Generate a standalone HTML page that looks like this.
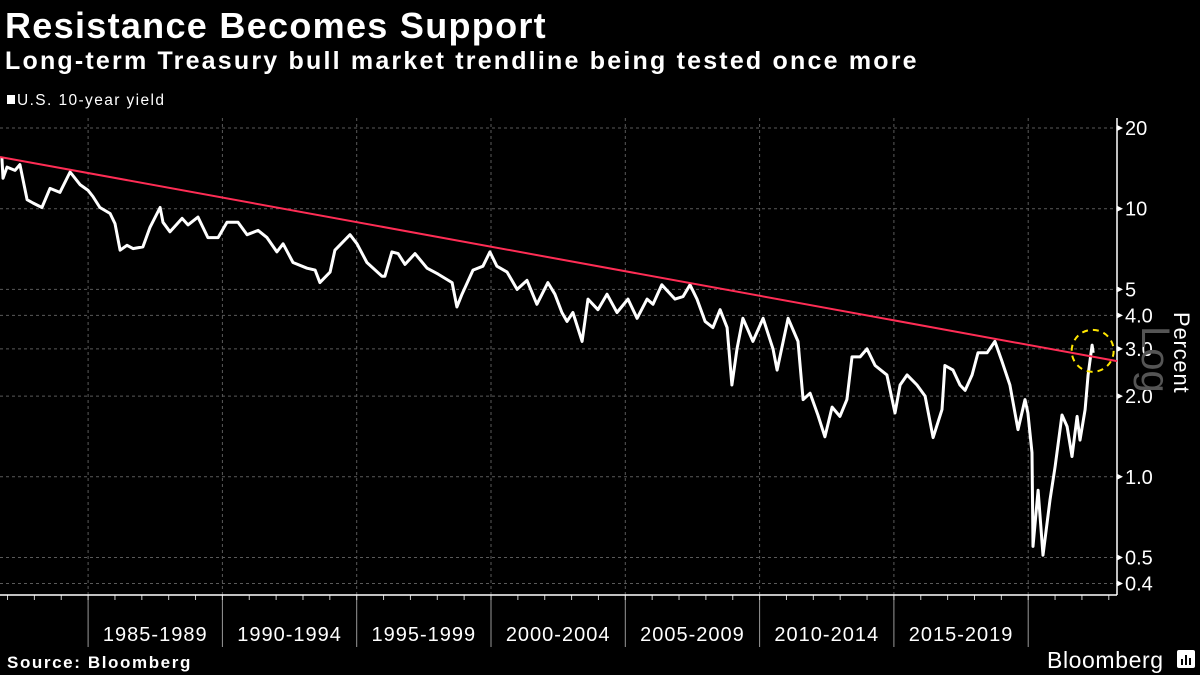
<!DOCTYPE html>
<html><head><meta charset="utf-8">
<style>
html,body{margin:0;padding:0;background:#000;}
body{width:1200px;height:675px;overflow:hidden;font-family:"Liberation Sans",sans-serif;color:#fff;}
</style></head>
<body>
<svg id="chart" width="1200" height="675" xmlns="http://www.w3.org/2000/svg" style="position:absolute;left:0;top:0">
<text x="5" y="38" font-family="Liberation Sans, sans-serif" font-weight="bold" font-size="36" letter-spacing="1.3" fill="#fff">Resistance Becomes Support</text>
<text x="5" y="69" font-family="Liberation Sans, sans-serif" font-weight="bold" font-size="25" letter-spacing="2.2" fill="#fff">Long-term Treasury bull market trendline being tested once more</text>
<rect x="7" y="95" width="8" height="9" fill="#fff"/>
<text x="17" y="105" font-size="15.5" letter-spacing="1.4" fill="#fff" font-family="Liberation Sans, sans-serif">U.S. 10-year yield</text>
<g id="grid"></g>
<g id="axes"></g>
<g id="series"></g>
<text transform="translate(1142,326) rotate(90)" font-size="40" fill="#555" font-family="Liberation Sans, sans-serif">Log</text>
<text transform="translate(1174,312) rotate(90)" font-size="22" letter-spacing="0.8" fill="#fff" font-family="Liberation Sans, sans-serif">Percent</text>
<text x="7" y="668" font-weight="bold" font-size="17" letter-spacing="1.6" fill="#fff" font-family="Liberation Sans, sans-serif">Source: Bloomberg</text>
<text x="1047" y="668" font-size="23" letter-spacing="0.6" fill="#fff" font-family="Liberation Sans, sans-serif">Bloomberg</text>
<g>
<rect x="1177" y="650" width="18" height="18" rx="2" fill="#fff"/>
<rect x="1181" y="659" width="2" height="6" fill="#000"/>
<rect x="1185" y="655" width="2" height="10" fill="#000"/>
<rect x="1189" y="658" width="2" height="7" fill="#000"/>
</g>
</svg>
<script>
const yieldDates=[1981.79,1981.83,1981.98,1982.28,1982.46,1982.73,1982.95,1983.28,1983.58,1983.95,1984.33,1984.70,1985.00,1985.18,1985.44,1985.82,1986.00,1986.19,1986.45,1986.67,1987.04,1987.30,1987.68,1987.79,1988.05,1988.50,1988.72,1989.09,1989.46,1989.84,1990.17,1990.58,1990.92,1991.33,1991.66,1992.03,1992.26,1992.63,1993.15,1993.45,1993.63,1994.01,1994.19,1994.75,1995.01,1995.38,1995.94,1996.05,1996.31,1996.54,1996.80,1997.17,1997.62,1998.03,1998.55,1998.73,1998.92,1999.33,1999.70,1999.96,2000.22,2000.60,2000.97,2001.34,2001.71,2002.12,2002.38,2002.64,2002.83,2003.05,2003.39,2003.61,2003.98,2004.32,2004.69,2005.10,2005.44,2005.81,2006.03,2006.36,2006.85,2007.15,2007.41,2007.67,2007.97,2008.26,2008.53,2008.79,2008.97,2009.16,2009.38,2009.75,2010.13,2010.50,2010.65,2011.06,2011.43,2011.62,2011.88,2012.17,2012.43,2012.70,2012.99,2013.25,2013.44,2013.74,2014.00,2014.30,2014.74,2015.04,2015.23,2015.49,2015.86,2016.16,2016.46,2016.79,2016.90,2017.20,2017.46,2017.65,2017.91,2018.13,2018.47,2018.76,2019.02,2019.32,2019.62,2019.88,2019.99,2020.14,2020.18,2020.37,2020.55,2020.81,2021.00,2021.26,2021.45,2021.63,2021.82,2021.93,2022.12,2022.23,2022.38,2022.42];
const yieldValues=[15.5,13.0,14.3,13.9,14.6,10.8,10.5,10.1,11.9,11.5,13.7,12.3,11.7,11.1,10.1,9.6,8.8,7.0,7.3,7.1,7.2,8.5,10.1,8.9,8.2,9.2,8.7,9.3,7.8,7.8,8.9,8.9,8.0,8.3,7.8,6.9,7.4,6.3,6.0,5.9,5.3,5.8,7.0,8.0,7.4,6.3,5.6,5.6,6.9,6.8,6.2,6.8,6.0,5.7,5.3,4.3,4.8,5.9,6.1,6.9,6.1,5.8,5.0,5.4,4.4,5.3,4.8,4.1,3.8,4.1,3.2,4.6,4.2,4.8,4.1,4.6,3.9,4.6,4.4,5.2,4.6,4.7,5.2,4.6,3.8,3.6,4.2,3.6,2.2,3.0,3.9,3.2,3.9,3.0,2.5,3.9,3.2,1.94,2.05,1.70,1.41,1.82,1.68,1.94,2.8,2.8,3.0,2.6,2.4,1.73,2.2,2.4,2.2,2.0,1.40,1.78,2.6,2.5,2.2,2.1,2.4,2.9,2.9,3.2,2.7,2.2,1.50,1.94,1.73,1.23,0.55,0.89,0.51,0.82,1.09,1.70,1.54,1.19,1.68,1.37,1.78,2.4,3.1,2.9];
const trendDates=[1981.72,2023.31];
const trendValues=[15.6,2.7];
const yTicks=[20,10,5,4.0,3.0,2.0,1.0,0.5,0.4];
const yTickLabels=["20","10","5","4.0","3.0","2.0","1.0","0.5","0.4"];
const periodStarts=[1985,1990,1995,2000,2005,2010,2015,2020];
const periodLabels=["1985-1989","1990-1994","1995-1999","2000-2004","2005-2009","2010-2014","2015-2019"];
const highlightDate=[2022.4];
const highlightValue=[2.95];

const NS="http://www.w3.org/2000/svg";
const X0=1981.72, PXY=26.86, AXR=1117, AXB=595, AXT=118;
function xs(t){return (t-X0)*PXY;}
function ys(v){return 128+80.7*Math.log2(20/v);}
function mk(tag,attrs,parent){const e=document.createElementNS(NS,tag);for(const k in attrs)e.setAttribute(k,attrs[k]);parent.appendChild(e);return e;}
const grid=document.getElementById('grid'),axes=document.getElementById('axes'),ser=document.getElementById('series');

yTicks.forEach((v,i)=>{
  const y=ys(v);
  const g=mk('line',{x1:0,x2:AXR,y1:y,y2:y,stroke:'#5a5a5a','stroke-width':1,'stroke-dasharray':'3,3'},grid);
  
  
  const tk=mk('path',{d:`M${AXR},${y-3}L${AXR+6},${y}L${AXR},${y+3}Z`,fill:'#fff'},axes);
  
  
  const t=mk('text',{x:AXR+8,y:y+7,'font-size':20,fill:'#fff','font-family':'Liberation Sans, sans-serif'},axes);
  t.textContent=yTickLabels[i];
  
  
});
periodStarts.forEach((yr,i)=>{
  const x=xs(yr);
  const g=mk('line',{x1:x,x2:x,y1:AXT,y2:AXB,stroke:'#5a5a5a','stroke-width':1,'stroke-dasharray':'3,3'},grid);
  
  
  const s=mk('line',{x1:x,x2:x,y1:AXB,y2:647,stroke:'#999','stroke-width':1},axes);
  
  
  if(i<periodLabels.length){
    const t=mk('text',{x:(x+xs(periodStarts[i+1]))/2,y:641,'font-size':20,'letter-spacing':1,fill:'#fff','text-anchor':'middle','font-family':'Liberation Sans, sans-serif'},axes);
    t.textContent=periodLabels[i];
    
    
  }
});
for(let yr=1982;yr<=2023;yr++){
  const x=xs(yr); if(x>AXR)break;
  const m=mk('line',{x1:x,x2:x,y1:AXB,y2:AXB+5,stroke:'#ccc','stroke-width':1},axes);
  
  
}
const xa=mk('line',{x1:0,x2:AXR,y1:AXB,y2:AXB,stroke:'#fff','stroke-width':1.5},axes);


const ya=mk('line',{x1:AXR,x2:AXR,y1:AXT,y2:AXB,stroke:'#fff','stroke-width':1.5},axes);



let d='';
yieldDates.forEach((t,i)=>{d+=(i?'L':'M')+xs(t).toFixed(1)+','+ys(yieldValues[i]).toFixed(1);});
const line=mk('path',{d:d,fill:'none',stroke:'#fff','stroke-width':3,'stroke-linejoin':'round'},ser);


const tr=mk('line',{x1:xs(trendDates[0]),y1:ys(trendValues[0]),x2:xs(trendDates[1]),y2:ys(trendValues[1]),stroke:'#ff2d55','stroke-width':2},ser);


const c=mk('circle',{cx:xs(highlightDate[0]),cy:ys(highlightValue[0]),r:21,fill:'none',stroke:'#ffe600','stroke-width':2,'stroke-dasharray':'6,5'},ser);


</script>
</body></html>
